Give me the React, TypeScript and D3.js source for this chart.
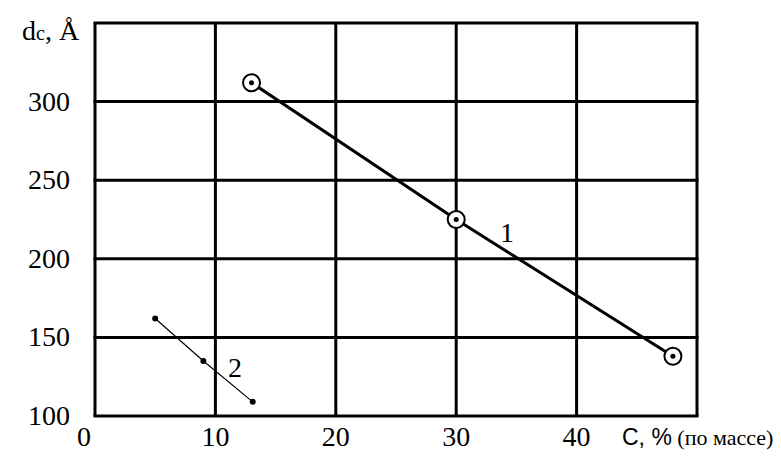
import React from "react";
import * as d3 from "d3";

const xTicks = [0, 10, 20, 30, 40];
const yTicks = [100, 150, 200, 250, 300];
const xGrid = [0, 10, 20, 30, 40, 50];
const yGrid = [100, 150, 200, 250, 300, 350];

const series1X = [13, 30, 48];
const series1Y = [312, 225, 138];
const series2X = [5, 9, 13.1];
const series2Y = [162, 135, 109];

const W = 781;
const H = 459;

export default function App() {
  const x = d3.scaleLinear().domain([0, 50]).range([95, 697]);
  const y = d3.scaleLinear().domain([100, 350]).range([416, 23]);
  const line = d3
    .line<[number, number]>()
    .x((d) => x(d[0]))
    .y((d) => y(d[1]));
  const s1 = series1X.map((v, i) => [v, series1Y[i]] as [number, number]);
  const s2 = series2X.map((v, i) => [v, series2Y[i]] as [number, number]);
  const serif = "'Liberation Serif', 'Times New Roman', serif";
  return (
    <svg
      width={W}
      height={H}
      style={{ position: "absolute", left: 0, top: 0, background: "#fff" }}
    >
      {xGrid.map((v) => (
        <line
          key={"gx" + v}
          x1={x(v)}
          x2={x(v)}
          y1={y(100)}
          y2={y(350)}
          stroke="#000"
          strokeWidth={3}
        />
      ))}
      {yGrid.map((v) => (
        <line
          key={"gy" + v}
          x1={x(0) - 1.5}
          x2={x(50) + 1.5}
          y1={y(v)}
          y2={y(v)}
          stroke="#000"
          strokeWidth={3}
        />
      ))}
      <path d={line(s2) || ""} fill="none" stroke="#000" strokeWidth={1.2} />
      {s2.map((d, i) => (
        <circle key={"p2" + i} cx={x(d[0])} cy={y(d[1])} r={3} fill="#000" />
      ))}
      <path d={line(s1) || ""} fill="none" stroke="#000" strokeWidth={3} />
      {s1.map((d, i) => (
        <g key={"p1" + i}>
          <circle cx={x(d[0])} cy={y(d[1])} r={8.5} fill="#fff" stroke="#000" strokeWidth={2} />
          <circle cx={x(d[0])} cy={y(d[1])} r={2.5} fill="#000" />
        </g>
      ))}
      <text x={507} y={242} fontFamily={serif} fontSize={28} textAnchor="middle">
        1
      </text>
      <text x={235} y={377} fontFamily={serif} fontSize={28} textAnchor="middle">
        2
      </text>
      {yTicks.map((v) => (
        <text
          key={"yt" + v}
          x={70}
          y={y(v) + 9}
          fontFamily={serif}
          fontSize={28}
          textAnchor="end"
        >
          {v}
        </text>
      ))}
      {xTicks.map((v) => (
        <text
          key={"xt" + v}
          x={v === 0 ? x(v) - 11 : x(v)}
          y={446}
          fontFamily={serif}
          fontSize={28}
          textAnchor="middle"
        >
          {v}
        </text>
      ))}
      <text x={22} y={40} fontFamily={serif} fontSize={28}>
        d<tspan fontSize={20}>c</tspan>, Å
      </text>
      <text x={622} y={445} fontFamily="'Liberation Sans', Arial, sans-serif" fontSize={23}>
        C, %
        <tspan fontFamily={serif} fontSize={22}> (по массе)</tspan>
      </text>
    </svg>
  );
}
